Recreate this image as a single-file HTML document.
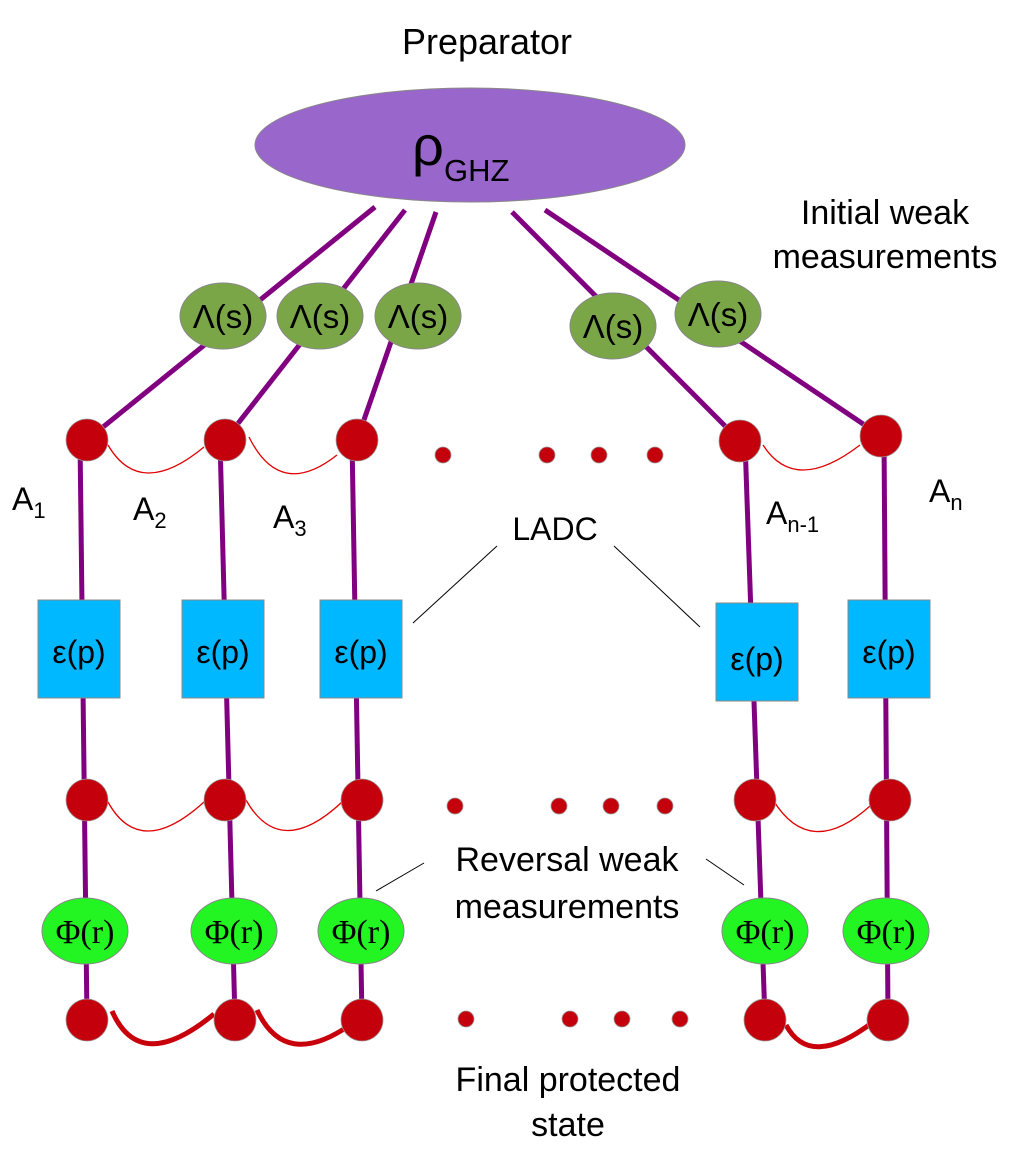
<!DOCTYPE html>
<html><head><meta charset="utf-8"><style>
html,body{margin:0;padding:0;background:#fff;}
svg{display:block;}
text{font-family:"Liberation Sans",sans-serif;fill:#000;}
.serif{font-family:"Liberation Serif",serif;}
</style></head><body>
<svg width="1032" height="1155" viewBox="0 0 1032 1155" xmlns="http://www.w3.org/2000/svg">
<g stroke="#800080" stroke-width="5" fill="none">
<line x1="375" y1="207" x2="87" y2="440"/>
<line x1="405" y1="210" x2="225" y2="440"/>
<line x1="436" y1="212" x2="357" y2="440"/>
<line x1="512" y1="212" x2="740" y2="441"/>
<line x1="545" y1="210" x2="881" y2="436"/>
<line x1="80" y1="440" x2="87" y2="1020"/>
<line x1="220" y1="440" x2="235" y2="1020"/>
<line x1="352" y1="440" x2="362" y2="1020"/>
<line x1="745" y1="441" x2="765" y2="1020"/>
<line x1="884" y1="436" x2="888" y2="1020"/>
</g>
<ellipse cx="470" cy="145" rx="215" ry="57" fill="#9966cc" stroke="#888" stroke-width="1"/>
<text x="412" y="165" font-size="56">ρ</text>
<text x="444" y="181" font-size="31">GHZ</text>
<text x="487" y="54" font-size="36" text-anchor="middle">Preparator</text>
<text x="885" y="224" font-size="34" text-anchor="middle">Initial weak</text>
<text x="885" y="268" font-size="34" text-anchor="middle">measurements</text>
<g fill="#7ba647" stroke="#888" stroke-width="1">
<ellipse cx="223" cy="316" rx="43" ry="33"/>
<ellipse cx="320" cy="316" rx="43" ry="33"/>
<ellipse cx="418" cy="316" rx="43" ry="33"/>
<ellipse cx="613" cy="326" rx="43" ry="33"/>
<ellipse cx="718" cy="314" rx="43" ry="33"/>
</g>
<g font-size="33" text-anchor="middle">
<text x="223" y="328">Λ(s)</text><text x="320" y="328">Λ(s)</text><text x="418" y="328">Λ(s)</text>
<text x="613" y="338">Λ(s)</text><text x="718" y="326">Λ(s)</text>
</g>
<g stroke="#e00000" stroke-width="1.3" fill="none">
<path d="M108 445 Q140 500 204 447"/>
<path d="M249 437 Q280 500 337 455"/>
<path d="M763 445 Q795 495 860 445"/>
<path d="M108 802 Q140 860 204 802"/>
<path d="M246 800 Q280 860 342 802"/>
<path d="M773 800 Q810 860 870 806"/>
</g>
<g stroke="#c8000b" stroke-width="5" fill="none">
<path d="M112 1011 Q140 1075 214 1014"/>
<path d="M257 1010 Q285 1070 350 1025"/>
<path d="M786 1025 Q810 1070 873 1022"/>
</g>
<g fill="#c3000b" stroke="#999" stroke-width="0.8">
<circle cx="87" cy="440" r="21"/><circle cx="225" cy="440" r="21"/><circle cx="357" cy="440" r="21"/>
<circle cx="740" cy="441" r="21"/><circle cx="881" cy="436" r="21"/>
<circle cx="443" cy="455" r="8"/><circle cx="547" cy="455" r="8"/><circle cx="599" cy="455" r="8"/><circle cx="655" cy="455" r="8"/>
<circle cx="87" cy="800" r="21"/><circle cx="225" cy="800" r="21"/><circle cx="362" cy="800" r="21"/>
<circle cx="755" cy="800" r="21"/><circle cx="890" cy="800" r="21"/>
<circle cx="455" cy="806" r="8"/><circle cx="559" cy="806" r="8"/><circle cx="611" cy="806" r="8"/><circle cx="665" cy="806" r="8"/>
<circle cx="87" cy="1020" r="21"/><circle cx="235" cy="1020" r="21"/><circle cx="362" cy="1020" r="21"/>
<circle cx="765" cy="1020" r="21"/><circle cx="888" cy="1020" r="21"/>
<circle cx="466" cy="1019" r="8"/><circle cx="570" cy="1019" r="8"/><circle cx="622" cy="1019" r="8"/><circle cx="680" cy="1019" r="8"/>
</g>
<g fill="#00b8ff" stroke="#888" stroke-width="1">
<rect x="38" y="600" width="82" height="98"/>
<rect x="182" y="600" width="82" height="98"/>
<rect x="320" y="600" width="82" height="98"/>
<rect x="716" y="603" width="82" height="98"/>
<rect x="848" y="600" width="82" height="98"/>
</g>
<g font-size="32" text-anchor="middle">
<text x="79" y="663">ε(p)</text><text x="223" y="663">ε(p)</text><text x="361" y="663">ε(p)</text>
<text x="757" y="670">ε(p)</text><text x="889" y="663">ε(p)</text>
</g>
<g fill="#22f522" stroke="#888" stroke-width="1">
<ellipse cx="85" cy="931" rx="43" ry="33"/>
<ellipse cx="234" cy="931" rx="43" ry="33"/>
<ellipse cx="361" cy="931" rx="43" ry="33"/>
<ellipse cx="765" cy="931" rx="43" ry="33"/>
<ellipse cx="886" cy="931" rx="43" ry="33"/>
</g>
<g font-size="34" text-anchor="middle">
<text class="serif" x="85" y="943">Φ(r)</text><text class="serif" x="234" y="943">Φ(r)</text><text class="serif" x="361" y="943">Φ(r)</text>
<text class="serif" x="765" y="943">Φ(r)</text><text class="serif" x="886" y="943">Φ(r)</text>
</g>
<g font-size="32">
<text x="12" y="510">A<tspan font-size="22" dy="8">1</tspan></text>
<text x="133" y="520">A<tspan font-size="22" dy="8">2</tspan></text>
<text x="273" y="528">A<tspan font-size="22" dy="8">3</tspan></text>
<text x="766" y="524">A<tspan font-size="22" dy="8">n-1</tspan></text>
<text x="929" y="502">A<tspan font-size="22" dy="8">n</tspan></text>
</g>
<text x="555" y="540" font-size="32" text-anchor="middle">LADC</text>
<g stroke="#000" stroke-width="1">
<line x1="497" y1="546" x2="413" y2="623"/>
<line x1="614" y1="546" x2="700" y2="627"/>
<line x1="424" y1="863" x2="376" y2="891"/>
<line x1="706" y1="859" x2="744" y2="885"/>
</g>
<text x="567" y="871" font-size="34" text-anchor="middle">Reversal weak</text>
<text x="567" y="918" font-size="34" text-anchor="middle">measurements</text>
<text x="568" y="1091" font-size="34" text-anchor="middle">Final protected</text>
<text x="568" y="1136" font-size="34" text-anchor="middle">state</text>
</svg>
</body></html>
